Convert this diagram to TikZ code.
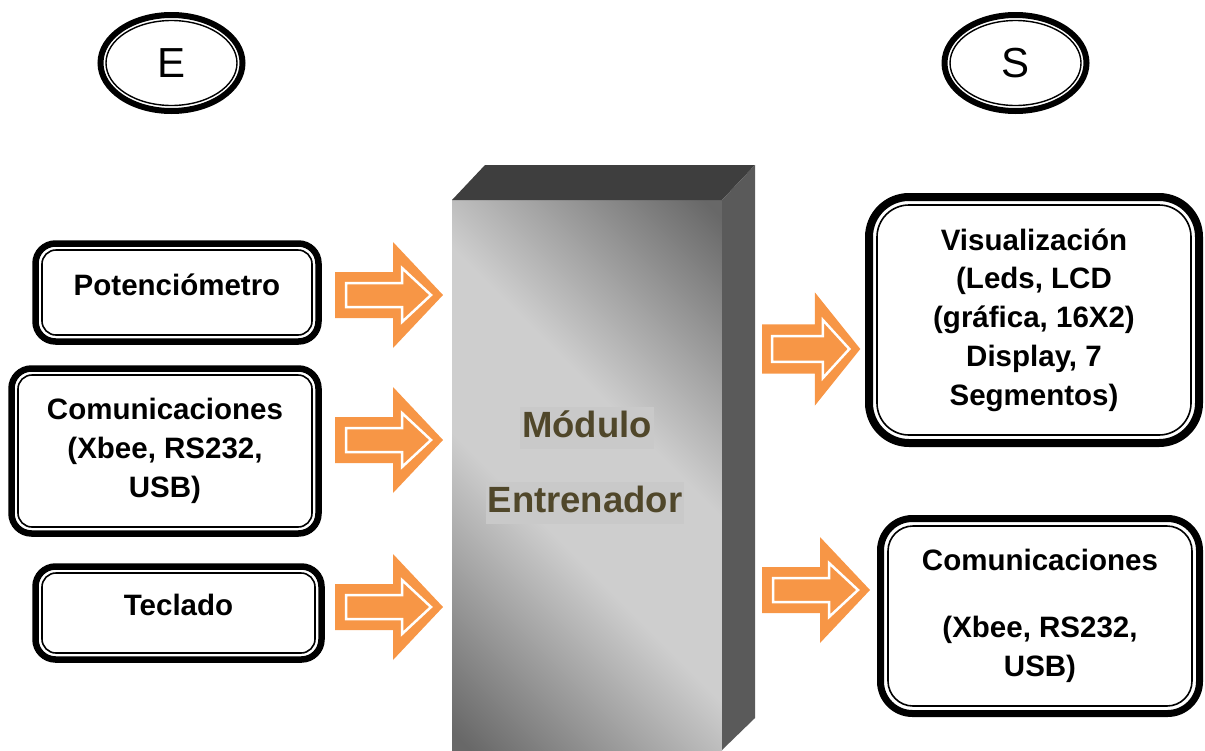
\documentclass[tikz,border=0pt]{standalone}
\usepackage{fontspec}
\setmainfont{Liberation Sans}
\usetikzlibrary{shapes.geometric, positioning}

\definecolor{arroworange}{RGB}{247,150,70}
\definecolor{moddark}{RGB}{104,104,104}
\definecolor{modlight}{RGB}{206,206,206}
\definecolor{modtop}{RGB}{62,62,62}
\definecolor{modside}{RGB}{90,90,90}
\definecolor{modtext}{RGB}{80,71,42}
\definecolor{modtextbg}{RGB}{201,201,201}

\pgfdeclarehorizontalshading{modshade}{100bp}{color(0bp)=(moddark); color(16bp)=(moddark); color(42bp)=(modlight); color(58bp)=(modlight); color(84bp)=(moddark); color(100bp)=(moddark)}

\begin{document}
\begin{tikzpicture}[x=1pt, y=-1pt,
        panel/.style = {
            rectangle,
            draw,
            line width=6.5pt,
            rounded corners=20pt,
            align = center,
            font = \fontsize{29.5}{38.75}\selectfont\bfseries,
            inner sep=0pt,
            outer sep=0pt
        },
        panel_inner/.style = {draw, line width=1.6pt},
        io_mark/.style = {
            ellipse,
            draw,
            line width=6pt,
            minimum width=142pt,
            minimum height=96pt,
            inner sep=0pt,
            outer sep=0pt,
            font=\fontsize{42}{42}\selectfont
        },
        mod_text/.style = {
            fill=modtextbg,
            text=modtext,
            font=\fontsize{36.5}{36.5}\selectfont\bfseries,
            inner xsep=2pt,
            inner ysep=3pt,
            text height=27pt,
            text depth=9pt
        },
        pics/flow_arrow/.style = {code={
            \fill[arroworange] (0,-23) -- (58,-23) -- (58,-53) -- (108,0) -- (58,53) -- (58,23) -- (0,23) -- cycle;
            \filldraw[fill=arroworange, draw=white, line width=2.5pt] (11,-12) -- (67,-12) -- (67,-27) -- (96,0) -- (67,27) -- (67,12) -- (11,12) -- cycle;
        }}
    ]

    \useasboundingbox (0,0) rectangle (1205,750);

    % entradas / salidas
    \node[io_mark] (in_mark) at (171.5,63) {E};
    \node[io_mark] (out_mark) at (1015.5,63) {S};
    \foreach \m in {in_mark, out_mark}
        \draw[line width=1.4pt] (\m.center) ellipse [x radius=65.5, y radius=42.5];

    % bloques de entrada
    \node[panel, minimum width=283pt, minimum height=98pt, text height=22pt, text depth=17pt] (in_pot) at (177,292.5) {Potenciómetro};
    \node[panel, minimum width=307pt, minimum height=165pt] (in_com) at (165,451) {Comunicaciones\\(Xbee, RS232,\\USB)};
    \node[panel, minimum width=286pt, minimum height=93pt, text height=22pt, text depth=17pt] (in_tec) at (178.5,613) {Teclado};

    % bloques de salida
    \node[panel, line width=8pt, rounded corners=40pt, minimum width=330pt, minimum height=246pt] (out_vis) at (1034,320) {Visualización\\(Leds, LCD\\(gráfica, 16X2)\\Display, 7\\Segmentos)};
    \node[panel, line width=7pt, rounded corners=32pt, minimum width=319pt, minimum height=195pt] (out_com) at (1040,616) {Comunicaciones\\[28pt](Xbee, RS232,\\USB)};

    \foreach \b/\r/\d in {in_pot/14/6.5, in_com/14/6.5, in_tec/14/6.5, out_vis/32/8, out_com/25/7.5}
        \draw[panel_inner, rounded corners=\r pt] ([shift={(\d,\d)}]\b.north west) rectangle ([shift={(-\d,-\d)}]\b.south east);

    % modulo entrenador
    \node[shade, shading=modshade, shading angle=45, minimum width=270pt, minimum height=550pt, inner sep=0pt, outer sep=0pt] (modulo) at (587,475) {};
    \fill[modtop] (modulo.north west) -- ++(33,-35) -- ++(270,0) -- (modulo.north east) -- cycle;
    \fill[modside] (modulo.north east) -- ++(33,-35) -- ++(0,553) -- (modulo.south east) -- cycle;

    \node[mod_text] (mod_word1) at (587,428) {Módulo};
    \node[mod_text, below=33pt of mod_word1, xshift=-2pt] (mod_word2) {Entrenador};

    % flechas
    \pic at (335,295) {flow_arrow};
    \pic at (335,440) {flow_arrow};
    \pic at (335,607) {flow_arrow};
    \pic[xscale=0.91, yscale=1.07] at (762,349) {flow_arrow};
    \pic at (762,590) {flow_arrow};

\end{tikzpicture}
\end{document}
